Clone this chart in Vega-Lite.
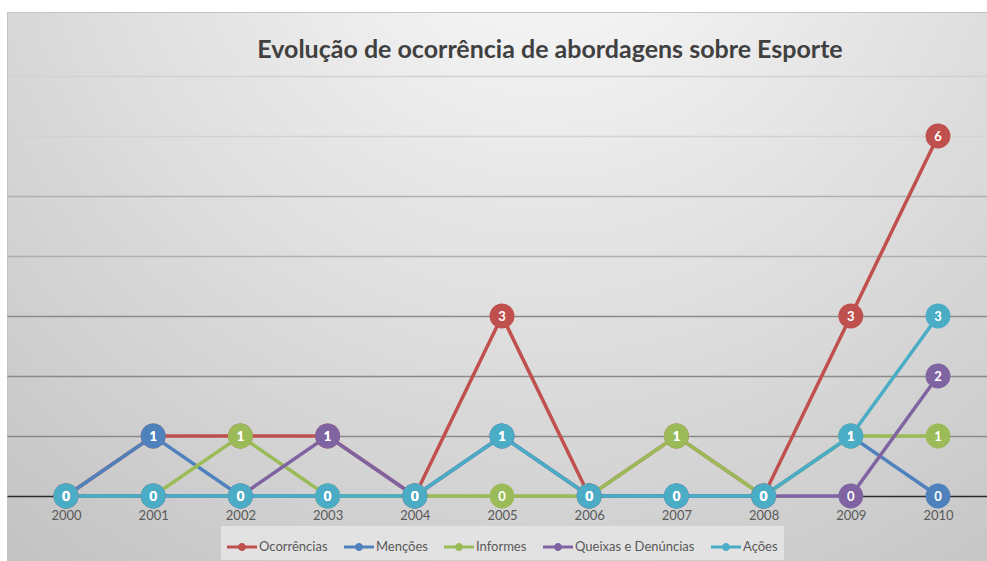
{
  "$schema": "https://vega.github.io/schema/vega-lite/v6.json",
  "width": 980,
  "height": 549,
  "autosize": {"type": "none"},
  "padding": {"left": 7, "top": 12, "right": 0, "bottom": 0},
  "background": "#ffffff",
  "title": {
    "text": "Evolução de ocorrência de abordagens sobre Esporte",
    "font": "Lato",
    "fontSize": 25,
    "fontWeight": "bold",
    "color": "#404040",
    "anchor": "middle",
    "dx": 53,
    "offset": -51
  },
  "config": {
    "view": {
      "stroke": "#c4c4c4",
      "strokeWidth": 1,
      "fill": {
        "gradient": "radial",
        "x1": 0.55, "y1": 0.08, "r1": 0,
        "x2": 0.55, "y2": 0.08, "r2": 0.9,
        "stops": [
          {"offset": 0, "color": "#fcfcfc"},
          {"offset": 0.5, "color": "#dfdfdf"},
          {"offset": 1, "color": "#c2c2c2"}
        ]
      }
    },
    "font": "Lato"
  },
  "data": {
    "values": [
      {"year": 2000, "series": "Ocorrências", "value": 0},
      {"year": 2001, "series": "Ocorrências", "value": 1},
      {"year": 2002, "series": "Ocorrências", "value": 1},
      {"year": 2003, "series": "Ocorrências", "value": 1},
      {"year": 2004, "series": "Ocorrências", "value": 0},
      {"year": 2005, "series": "Ocorrências", "value": 3},
      {"year": 2006, "series": "Ocorrências", "value": 0},
      {"year": 2007, "series": "Ocorrências", "value": 1},
      {"year": 2008, "series": "Ocorrências", "value": 0},
      {"year": 2009, "series": "Ocorrências", "value": 3},
      {"year": 2010, "series": "Ocorrências", "value": 6},
      {"year": 2000, "series": "Menções", "value": 0},
      {"year": 2001, "series": "Menções", "value": 1},
      {"year": 2002, "series": "Menções", "value": 0},
      {"year": 2003, "series": "Menções", "value": 0},
      {"year": 2004, "series": "Menções", "value": 0},
      {"year": 2005, "series": "Menções", "value": 1},
      {"year": 2006, "series": "Menções", "value": 0},
      {"year": 2007, "series": "Menções", "value": 0},
      {"year": 2008, "series": "Menções", "value": 0},
      {"year": 2009, "series": "Menções", "value": 1},
      {"year": 2010, "series": "Menções", "value": 0},
      {"year": 2000, "series": "Informes", "value": 0},
      {"year": 2001, "series": "Informes", "value": 0},
      {"year": 2002, "series": "Informes", "value": 1},
      {"year": 2003, "series": "Informes", "value": 0},
      {"year": 2004, "series": "Informes", "value": 0},
      {"year": 2005, "series": "Informes", "value": 0},
      {"year": 2006, "series": "Informes", "value": 0},
      {"year": 2007, "series": "Informes", "value": 1},
      {"year": 2008, "series": "Informes", "value": 0},
      {"year": 2009, "series": "Informes", "value": 1},
      {"year": 2010, "series": "Informes", "value": 1},
      {"year": 2000, "series": "Queixas e Denúncias", "value": 0},
      {"year": 2001, "series": "Queixas e Denúncias", "value": 0},
      {"year": 2002, "series": "Queixas e Denúncias", "value": 0},
      {"year": 2003, "series": "Queixas e Denúncias", "value": 1},
      {"year": 2004, "series": "Queixas e Denúncias", "value": 0},
      {"year": 2005, "series": "Queixas e Denúncias", "value": 1},
      {"year": 2006, "series": "Queixas e Denúncias", "value": 0},
      {"year": 2007, "series": "Queixas e Denúncias", "value": 0},
      {"year": 2008, "series": "Queixas e Denúncias", "value": 0},
      {"year": 2009, "series": "Queixas e Denúncias", "value": 0},
      {"year": 2010, "series": "Queixas e Denúncias", "value": 2},
      {"year": 2000, "series": "Ações", "value": 0},
      {"year": 2001, "series": "Ações", "value": 0},
      {"year": 2002, "series": "Ações", "value": 0},
      {"year": 2003, "series": "Ações", "value": 0},
      {"year": 2004, "series": "Ações", "value": 0},
      {"year": 2005, "series": "Ações", "value": 1},
      {"year": 2006, "series": "Ações", "value": 0},
      {"year": 2007, "series": "Ações", "value": 0},
      {"year": 2008, "series": "Ações", "value": 0},
      {"year": 2009, "series": "Ações", "value": 1},
      {"year": 2010, "series": "Ações", "value": 3}
    ]
  },
  "encoding": {
    "x": {
      "field": "year",
      "type": "quantitative",
      "scale": {"domain": [1999.3234, 2010.5619], "nice": false, "zero": false},
      "axis": {
        "title": null,
        "values": [2000, 2001, 2002, 2003, 2004, 2005, 2006, 2007, 2008, 2009, 2010],
        "format": "d",
        "grid": false,
        "domain": false,
        "ticks": false,
        "offset": -65,
        "labelPadding": 13,
        "labelFont": "Lato",
        "labelFontSize": 13,
        "labelColor": "#595959"
      }
    },
    "y": {
      "field": "value",
      "type": "quantitative",
      "scale": {"domain": [-1.0833, 8.0667], "nice": false, "zero": false},
      "axis": {
        "title": null,
        "values": [0, 1, 2, 3, 4, 5, 6, 7],
        "labels": false,
        "ticks": false,
        "domain": false,
        "grid": true,
        "gridWidth": 1.5,
        "gridColor": {
          "condition": [
            {"test": "datum.value === 0", "value": "#2a2a2a"},
            {"test": "datum.value >= 6", "value": "#d2d2d2"},
            {"test": "datum.value >= 4", "value": "#b0b0b0"}
          ],
          "value": "#8a8a8a"
        }
      }
    },
    "color": {
      "field": "series",
      "type": "nominal",
      "scale": {
        "domain": ["Ocorrências", "Menções", "Informes", "Queixas e Denúncias", "Ações"],
        "range": ["#C0504D", "#4F81BD", "#9BBB59", "#8064A2", "#4BACC6"]
      },
      "legend": {
        "title": null,
        "orient": "none",
        "legendX": 214,
        "legendY": 514,
        "direction": "horizontal",
        "columns": 5,
        "fillColor": "#e2e2e2",
        "padding": 6,
        "columnPadding": 16,
        "labelOffset": 2,
        "labelFont": "Lato",
        "labelFontSize": 13,
        "labelColor": "#595959",
        "symbolType": "M-1,-0.1H1V0.1H-1Z M0.27,0A0.27,0.27,0,1,1,-0.27,0A0.27,0.27,0,1,1,0.27,0Z",
        "symbolSize": 900,
        "symbolStrokeWidth": 0
      }
    }
  },
  "layer": [
    {
      "mark": {"type": "line", "strokeWidth": 3.5}
    },
    {
      "mark": {"type": "point", "filled": true, "opacity": 1, "size": 620, "shape": "circle"}
    },
    {
      "mark": {"type": "text", "font": "Lato", "fontSize": 13, "fontWeight": "bold", "baseline": "middle", "dy": 1},
      "encoding": {
        "text": {"field": "value", "type": "quantitative"},
        "color": {"value": "#ffffff"}
      }
    }
  ]
}
